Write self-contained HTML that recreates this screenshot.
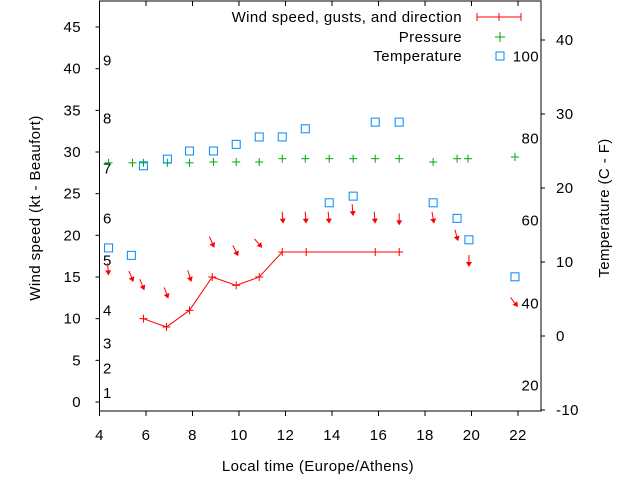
<!DOCTYPE html>
<html><head><meta charset="utf-8"><style>
body{margin:0;background:#fff}
svg{display:block;font-family:"Liberation Sans",sans-serif;font-size:15px;letter-spacing:0.4px}
</style></head><body>
<svg id="chart" width="640" height="480" viewBox="0 0 640 480" xmlns="http://www.w3.org/2000/svg">
<g id="axes"></g>
<g id="marks"></g>
<g>
<text x="462" y="22" text-anchor="end">Wind speed, gusts, and direction</text>
<g stroke="#f00" stroke-width="1"><line x1="477" y1="17" x2="521" y2="17"/><line x1="477" y1="13" x2="477" y2="21"/><line x1="521" y1="13" x2="521" y2="21"/><line x1="499" y1="13" x2="499" y2="21"/></g>
<text x="462" y="42" text-anchor="end">Pressure</text>
<g stroke="#0a0"><line x1="495" y1="37" x2="505" y2="37"/><line x1="500" y1="32" x2="500" y2="42"/></g>
<text x="462" y="61" text-anchor="end">Temperature</text>
<rect x="496" y="52" width="8" height="8" fill="none" stroke="#08f"/>
</g>
<text x="318" y="471" text-anchor="middle">Local time (Europe/Athens)</text>
<text transform="translate(40,208) rotate(-90)" text-anchor="middle">Wind speed (kt - Beaufort)</text>
<text transform="translate(609,208) rotate(-90)" text-anchor="middle">Temperature (C - F)</text>
</svg>
<script>
const xTicks=[4,6,8,10,12,14,16,18,20,22];
const ktTicks=[0,5,10,15,20,25,30,35,40,45];
const cTicks=[-10,0,10,20,30,40];
const bftLabels=["1","2","3","4","5","6","7","8","9"];
const bftKt=[1.1,4.0,7.0,11.0,17.0,22.0,28.0,34.0,41.0];
const fLabels=["20","40","60","80","100"];
const fValues=[-6.7,4.4,15.6,26.7,37.8];
const windHours=[5.89,6.88,7.87,8.85,9.88,10.87,11.86,12.89,15.86,16.89];
const windKt=[10,9,11,15,14,15,18,18,18,18];
const arrowHours=[4.39,5.46,5.93,6.96,7.95,8.94,9.97,11.0,11.9,12.89,13.88,14.91,15.86,16.89,18.39,19.42,19.89,22.0];
const arrowKt=[15.2,14.4,13.4,12.4,14.4,18.5,17.5,18.5,21.4,21.4,21.4,22.3,21.4,21.2,21.4,19.3,16.2,11.4];
const arrowDir=[5,22,22,20,17,24,27,41,5,5,5,5,5,0,10,15,0,38];
const tempHours=[4.39,5.37,5.89,6.92,7.87,8.9,9.88,10.87,11.86,12.85,13.88,14.91,15.86,16.89,18.35,19.38,19.89,21.87];
const tempC=[11.9,10.9,23.0,23.9,25.0,25.0,25.9,26.9,26.9,28.0,18.0,18.9,28.9,28.9,18.0,15.9,13.0,8.0];
const presHours=[4.39,5.42,5.89,6.92,7.87,8.9,9.88,10.87,11.86,12.85,13.88,14.91,15.86,16.89,18.35,19.38,19.85,21.87];
const presKt=[28.7,28.7,28.7,28.7,28.7,28.8,28.8,28.8,29.2,29.2,29.2,29.2,29.2,29.2,28.8,29.2,29.2,29.4];

const L=99.5,R=541,T=1,B=411;
const X=h=>99.5+(h-4)*23.25;
const Y=k=>402-k*8.333;
const YC=c=>336-c*7.4;
const NS="http://www.w3.org/2000/svg";
function mk(tag,attrs,parent){const e=document.createElementNS(NS,tag);for(const k in attrs)e.setAttribute(k,attrs[k]);parent.appendChild(e);return e;}
const ax=document.getElementById('axes'),mg=document.getElementById('marks');

const frame=mk('rect',{x:L,y:T,width:R-L,height:B-T,fill:'none',stroke:'#000','stroke-width':1},ax);


xTicks.forEach(v=>{
  const g=mk('g',{},ax);
  
  
  mk('line',{x1:X(v),y1:B,x2:X(v),y2:B+5,stroke:'#000'},g);
  mk('line',{x1:X(v),y1:T,x2:X(v),y2:T+5,stroke:'#000'},g);
  const t=mk('text',{x:X(v),y:440,'text-anchor':'middle'},g);t.textContent=v;
});
ktTicks.forEach(v=>{
  const g=mk('g',{},ax);
  
  
  mk('line',{x1:L-4,y1:Y(v),x2:L,y2:Y(v),stroke:'#000'},g);
  const t=mk('text',{x:81,y:Y(v)+5,'text-anchor':'end'},g);t.textContent=v;
});
cTicks.forEach(v=>{
  const g=mk('g',{},ax);
  
  
  mk('line',{x1:R,y1:YC(v),x2:R+4,y2:YC(v),stroke:'#000'},g);
  const t=mk('text',{x:556,y:YC(v)+5,'text-anchor':'start'},g);t.textContent=v;
});
bftLabels.forEach((s,i)=>{
  const t=mk('text',{x:103,y:Y(bftKt[i])+5},ax);
  
  
  t.textContent=s;
});
fLabels.forEach((s,i)=>{
  const t=mk('text',{x:539,y:YC(fValues[i])+5,'text-anchor':'end'},ax);
  
  
  t.textContent=s;
});
presHours.forEach((h,i)=>{
  const g=mk('g',{stroke:'#0a0'},mg);
  
  
  const x=X(h),y=Y(presKt[i]);
  mk('line',{x1:x-4,y1:y,x2:x+4,y2:y},g);mk('line',{x1:x,y1:y-4,x2:x,y2:y+4},g);
});
tempHours.forEach((h,i)=>{
  const r=mk('rect',{x:X(h)-4,y:YC(tempC[i])-4,width:8,height:8,fill:'none',stroke:'#08f'},mg);
  
  
});
const pl=mk('polyline',{points:windHours.map((h,i)=>X(h)+','+Y(windKt[i])).join(' '),fill:'none',stroke:'#f00'},mg);


windHours.forEach((h,i)=>{
  const g=mk('g',{stroke:'#f00'},mg);
  
  
  const x=X(h),y=Y(windKt[i]);
  mk('line',{x1:x-4,y1:y,x2:x+4,y2:y},g);mk('line',{x1:x,y1:y-4,x2:x,y2:y+4},g);
});
arrowHours.forEach((h,i)=>{
  const g=mk('g',{},mg);
  
  
  const x=X(h),y=Y(arrowKt[i]);
  g.setAttribute('transform','translate('+x+','+y+') rotate('+(-arrowDir[i])+')');
  mk('line',{x1:0,y1:-12,x2:0,y2:-3,stroke:'#f00'},g);
  mk('polygon',{points:'0,0 -3,-5 3,-5',fill:'#f00'},g);
});
</script>
</body></html>
